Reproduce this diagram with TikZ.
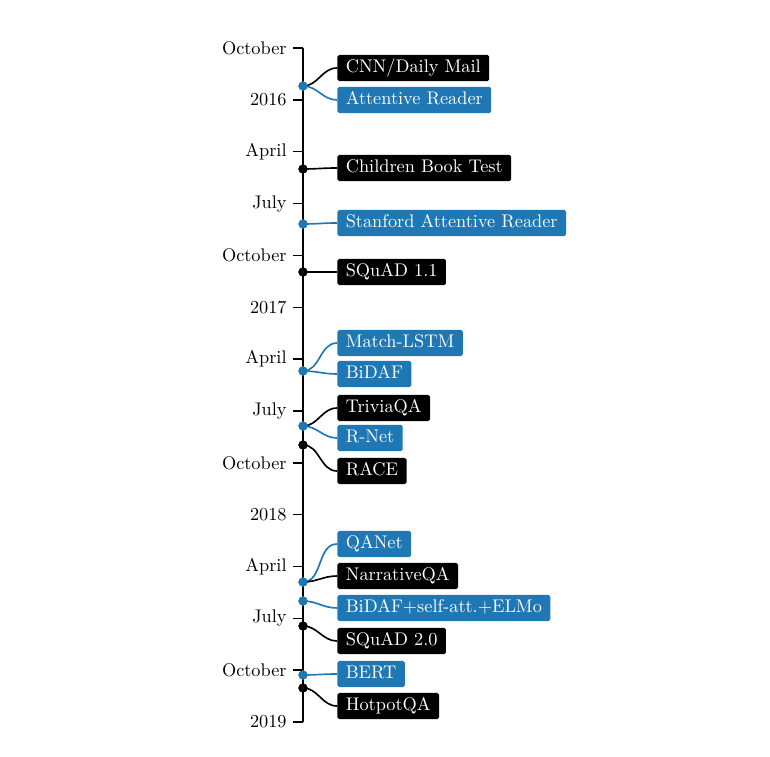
\documentclass[tikz,border=0pt]{standalone}
\definecolor{tblue}{RGB}{31,119,180}
\begin{document}
\begin{tikzpicture}[x=0.5464pt,y=-0.5464pt,
  ev/.style={anchor=west,text=white,inner xsep=4.6pt,inner ysep=2.7pt,text height=7pt,text depth=2pt,rounded corners=1pt,font=\normalsize},
  evk/.style={ev,fill=black},
  evb/.style={ev,fill=tblue},
  dotk/.style={circle,fill=black,inner sep=0pt,minimum size=5pt},
  dotb/.style={circle,fill=tblue,inner sep=0pt,minimum size=5pt},
  lk/.style={draw=black,line width=0.9pt},
  lb/.style={draw=tblue,line width=0.9pt},
  tick/.style={line width=0.8pt},
  tlab/.style={anchor=east,inner sep=0pt}]
\useasboundingbox (0,0) rectangle (770,757);
% axis
\coordinate (top) at (303,48);
\coordinate (bot) at (303,722);
\draw[line width=1.1pt] (top) -- (bot);
% ticks
\foreach \lab [count=\i from 0] in {October,2016,April,July,October,2017,April,July,October,2018,April,July,October,2019}{
  \coordinate (t\i) at (303,48+51.85*\i);
  \coordinate (s\i) at (293,48+51.85*\i);
  \draw[tick] (s\i) -- (t\i);
  \node[tlab] (l\i) at (287,48+51.85*\i) {\lab};
}
% boxes
\node[evk] (cnn) at (337,68) {CNN/Daily Mail};
\node[evb] (ar) at (337,100) {Attentive Reader};
\node[evk] (cbt) at (337,168) {Children Book Test};
\node[evb] (sar) at (337,223) {Stanford Attentive Reader};
\node[evk] (sq1) at (337,272) {SQuAD 1.1};
\node[evb] (mlstm) at (337,343) {Match-LSTM};
\node[evb] (bidaf) at (337,374) {BiDAF};
\node[evk] (tqa) at (337,408) {TriviaQA};
\node[evb] (rnet) at (337,438) {R-Net};
\node[evk] (race) at (337,471) {RACE};
\node[evb] (qanet) at (337,544) {QANet};
\node[evk] (nqa) at (337,576) {NarrativeQA};
\node[evb] (belmo) at (337,608) {BiDAF+self-att.+ELMo};
\node[evk] (sq2) at (337,641) {SQuAD 2.0};
\node[evb] (bert) at (337,674) {BERT};
\node[evk] (hqa) at (337,706) {HotpotQA};
% dots
\node[dotb] (d1) at (303,86) {};
\node[dotk] (d2) at (303,169) {};
\node[dotb] (d3) at (303,224) {};
\node[dotk] (d4) at (303,272) {};
\node[dotb] (d5) at (303,371) {};
\node[dotb] (d6) at (303,426) {};
\node[dotk] (d7) at (303,445) {};
\node[dotb] (d8) at (303,582) {};
\node[dotb] (d9) at (303,601) {};
\node[dotk] (d10) at (303,626) {};
\node[dotb] (d11) at (303,675) {};
\node[dotk] (d12) at (303,688) {};
% connectors
\draw[lk] (d1.center) to[out=0,in=180] (cnn.west);
\draw[lb] (d1.center) to[out=0,in=180] (ar.west);
\draw[lk] (d2.center) to[out=0,in=180] (cbt.west);
\draw[lb] (d3.center) to[out=0,in=180] (sar.west);
\draw[lk] (d4.center) to[out=0,in=180] (sq1.west);
\draw[lb] (d5.center) to[out=0,in=180] (mlstm.west);
\draw[lb] (d5.center) to[out=0,in=180] (bidaf.west);
\draw[lk] (d6.center) to[out=0,in=180] (tqa.west);
\draw[lb] (d6.center) to[out=0,in=180] (rnet.west);
\draw[lk] (d7.center) to[out=0,in=180] (race.west);
\draw[lb] (d8.center) to[out=0,in=180] (qanet.west);
\draw[lk] (d8.center) to[out=0,in=180] (nqa.west);
\draw[lb] (d9.center) to[out=0,in=180] (belmo.west);
\draw[lk] (d10.center) to[out=0,in=180] (sq2.west);
\draw[lb] (d11.center) to[out=0,in=180] (bert.west);
\draw[lk] (d12.center) to[out=0,in=180] (hqa.west);
% redraw dots on top
\foreach \d/\c in {d1/tblue,d2/black,d3/tblue,d4/black,d5/tblue,d6/tblue,d7/black,d8/tblue,d9/tblue,d10/black,d11/tblue,d12/black}{
  \fill[\c] (\d.center) circle (2.5pt);
}
\end{tikzpicture}
\end{document}
